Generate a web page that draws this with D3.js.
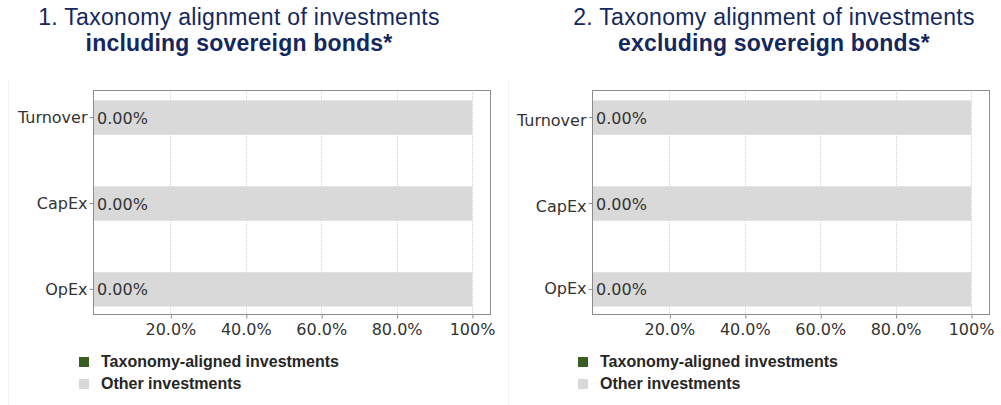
<!DOCTYPE html>
<html>
<head>
<meta charset="utf-8">
<script src="https://cdn.jsdelivr.net/npm/d3@7"></script>
<style>
  body { margin: 0; background: #fff; }
  svg { display: block; }
</style>
</head>
<body>
<div id="chart"></div>
<script>
// chart data
const categories = ["Turnover", "CapEx", "OpEx"];
const alignedIncl = [0, 0, 0];
const otherIncl = [100, 100, 100];
const alignedExcl = [0, 0, 0];
const otherExcl = [100, 100, 100];
const tickValues = [20, 40, 60, 80, 100];
const tickLabels = ["20.0%", "40.0%", "60.0%", "80.0%", "100%"];
const titleLine1 = ["1. Taxonomy alignment of investments", "2. Taxonomy alignment of investments"];
const titleLine2 = ["including sovereign bonds*", "excluding sovereign bonds*"];
const legendLabels = ["Taxonomy-aligned investments", "Other investments"];

const W = 1001, H = 405;
const green = "#375e23", grey = "#d9d9d9";
const axisFont = "'DejaVu Sans', Verdana, sans-serif";
const titleFont = "'Liberation Sans', Arial, sans-serif";

const svg = d3.select("#chart").append("svg")
    .attr("width", W)
    .attr("height", H);

// faint panel separators
svg.append("line").attr("x1", 8.5).attr("x2", 8.5).attr("y1", 80).attr("y2", H)
  .attr("stroke", "#f3f3f3");
svg.append("line").attr("x1", 508.5).attr("x2", 508.5).attr("y1", 80).attr("y2", H)
  .attr("stroke", "#f3f3f3");

const panels = [
  {dx: 0, titleX: 239, aligned: alignedIncl, other: otherIncl, labelDy: ["0.32em", "0.32em", "0.32em"]},
  {dx: 499, titleX: 774, aligned: alignedExcl, other: otherExcl, labelDy: ["0.55em", "0.5em", "0.28em"]}
];

panels.forEach((p, i) => {
  const g = svg.append("g").attr("transform", `translate(${p.dx},0)`);

  // titles (tight two-line heading)
  g.append("text")
    .attr("x", p.titleX - p.dx).attr("y", 25)
    .attr("text-anchor", "middle")
    .style("font-family", titleFont)
    .style("font-size", "23px")
    .style("letter-spacing", "0.3px")
    .attr("fill", "#14275e")
    .text(titleLine1[i]);
  g.append("text")
    .attr("x", p.titleX - p.dx).attr("y", 51)
    .attr("text-anchor", "middle")
    .style("font-family", titleFont)
    .style("font-size", "23px")
    .style("font-weight", "bold")
    .style("letter-spacing", "0.2px")
    .attr("fill", "#14275e")
    .text(titleLine2[i]);

  const left = 93, right = 491, top = 90, bottom = 315;

  const x = d3.scaleLinear().domain([0, 100]).range([95, 472]);
  const y = d3.scaleBand().domain(categories).range([top, bottom])
    .paddingInner(0.6).paddingOuter(0.11);

  // gridlines
  g.append("g")
    .selectAll("line")
    .data(tickValues)
    .join("line")
      .attr("x1", d => Math.round(x(d)) + 0.5)
      .attr("x2", d => Math.round(x(d)) + 0.5)
      .attr("y1", top)
      .attr("y2", bottom)
      .attr("stroke", "#cfcfcf")
      .attr("stroke-dasharray", "1,1");

  // bars: other investments (grey) stacked after aligned (green)
  const rows = categories.map((c, k) => ({cat: c, aligned: p.aligned[k], other: p.other[k]}));

  g.append("g").selectAll("rect.other")
    .data(rows)
    .join("rect")
      .attr("class", "other")
      .attr("x", d => x(d.aligned) - 2)
      .attr("y", d => y(d.cat) + 1)
      .attr("width", d => x(d.aligned + d.other) - x(d.aligned) + 2)
      .attr("height", y.bandwidth())
      .attr("fill", grey);

  g.append("g").selectAll("rect.aligned")
    .data(rows)
    .join("rect")
      .attr("class", "aligned")
      .attr("x", x(0))
      .attr("y", d => y(d.cat) + 1)
      .attr("width", d => x(d.aligned) - x(0))
      .attr("height", y.bandwidth())
      .attr("fill", green);

  // value labels
  g.append("g").selectAll("text")
    .data(rows)
    .join("text")
      .attr("x", x(0) + 2)
      .attr("y", d => y(d.cat) + y.bandwidth() / 2 + 7)
      .style("font-family", axisFont)
      .style("font-size", "16px")
      .attr("fill", "#333")
      .text(d => d3.format(".2f")(d.aligned) + "%");

  // frame
  g.append("rect")
    .attr("x", left + 0.5).attr("y", top + 0.5)
    .attr("width", right - left - 1).attr("height", bottom - top - 1)
    .attr("fill", "none")
    .attr("stroke", "#8c8c8c");

  // y axis
  const yAxis = g.append("g")
    .attr("transform", `translate(${left + 0.5},1)`)
    .call(d3.axisLeft(y).tickSize(4).tickPadding(2));
  yAxis.select(".domain").remove();
  yAxis.selectAll("line").attr("stroke", "#8c8c8c");
  yAxis.selectAll("text")
    .style("font-family", axisFont)
    .style("font-size", "16px")
    .attr("fill", "#333")
    .attr("dy", (d, k) => p.labelDy[k]);

  // x axis
  const xAxis = g.append("g")
    .attr("transform", `translate(0,${bottom - 0.5})`)
    .call(d3.axisBottom(x).tickValues(tickValues)
      .tickFormat((d, k) => tickLabels[k]).tickSize(4).tickPadding(5));
  xAxis.select(".domain").remove();
  xAxis.selectAll("line").attr("stroke", "#8c8c8c")
    .attr("transform", "translate(0.5,0)");
  xAxis.selectAll("text")
    .style("font-family", axisFont)
    .style("font-size", "16px")
    .attr("fill", "#333");

  // legend
  const legendColors = [green, grey];
  const lg = g.append("g");
  legendLabels.forEach((lab, k) => {
    lg.append("rect")
      .attr("x", 79).attr("y", 357 + k * 22)
      .attr("width", 10).attr("height", 10)
      .attr("fill", legendColors[k]);
    lg.append("text")
      .attr("x", 101).attr("y", 367 + k * 22)
      .style("font-family", titleFont)
      .style("font-size", "16px")
      .style("font-weight", "bold")
      .attr("fill", "#262626")
      .text(lab);
  });
});
</script>
</body>
</html>
